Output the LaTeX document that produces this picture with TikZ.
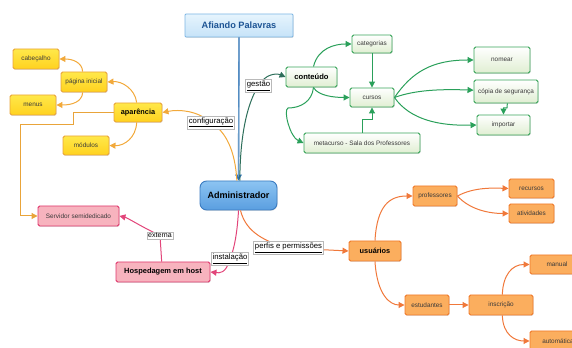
\documentclass[tikz,border=0pt]{standalone}
\usepackage{fontspec}
\setmainfont{Liberation Sans}
\usetikzlibrary{arrows.meta,shadows}
\definecolor{txtgray}{HTML}{3A3A3A}
\definecolor{bluB}{HTML}{7DB6E4}
\definecolor{bluT}{HTML}{1D5494}
\definecolor{bluF1}{HTML}{E6F4FD}
\definecolor{bluF2}{HTML}{C6E3F8}
\definecolor{admF1}{HTML}{8CC4F2}
\definecolor{admF2}{HTML}{5A9EE0}
\definecolor{admB}{HTML}{3B7BC0}
\definecolor{bluL}{HTML}{6A9CC8}
\definecolor{bluA}{HTML}{2A6FB8}
\definecolor{grnB}{HTML}{3AA55A}
\definecolor{grnF}{HTML}{E0EED2}
\definecolor{grnL}{HTML}{2AA05A}
\definecolor{tealL}{HTML}{2D6E5A}
\definecolor{yelF1}{HTML}{FFE84A}
\definecolor{yelF2}{HTML}{FFD21F}
\definecolor{yelB}{HTML}{E9A43A}
\definecolor{yelL}{HTML}{F2A93B}
\definecolor{pnkF}{HTML}{F7B3BE}
\definecolor{pnkB}{HTML}{E0396E}
\definecolor{pnkL}{HTML}{E2457A}
\definecolor{orgF}{HTML}{FBAE5E}
\definecolor{orgB}{HTML}{F07A2A}
\definecolor{orgL}{HTML}{F0783A}
\begin{document}
\begin{tikzpicture}[x=0.75pt,y=-0.75pt,
  every node/.style={inner sep=0pt},
  base/.style={draw, rounded corners=1.2pt, line width=0.7pt, align=center,
    font=\fontsize{4.8}{5}\selectfont, text=txtgray,
    drop shadow={shadow xshift=0.5pt,shadow yshift=-0.6pt,opacity=0.25}},
  grnbox/.style={base, draw=grnB, top color=white, bottom color=grnF},
  yelbox/.style={base, draw=yelB, top color=yelF1, bottom color=yelF2},
  pnkbox/.style={base, draw=pnkB, fill=pnkF},
  orgbox/.style={base, draw=orgB, fill=orgF},
  bigtxt/.style={font=\fontsize{#1}{#1}\selectfont\bfseries, text=black},
  ed/.style={line width=0.75pt, -{Triangle[length=4.5pt,width=4.5pt]}},
  lab/.style={draw=gray!55, fill=white, line width=0.4pt, inner sep=1pt,
    font=\fontsize{5.8}{6}\selectfont, text=black}
]
\useasboundingbox (0,0) rectangle (572,348);
\clip (0,0) rectangle (572,348);

% ---------- nodes ----------
\node[base, draw=bluB, top color=bluF1, bottom color=bluF2, rounded corners=0.8pt,
  minimum width=81pt, minimum height=17.25pt,
  font=\fontsize{6.9}{7}\selectfont\bfseries, text=bluT] (afi) at (239,25.5) {Afiando Palavras};
\node[base, draw=admB, top color=admF1, bottom color=admF2, rounded corners=5pt,
  minimum width=57.75pt, minimum height=21.75pt, bigtxt=6.8] (adm) at (238.5,195.5) {Administrador};

\node[grnbox, minimum width=38.25pt, minimum height=15pt, bigtxt=5.7] (cont) at (311.5,77) {conteúdo};
\node[grnbox, minimum width=30pt, minimum height=13.5pt] (cat) at (372,44) {categorias};
\node[grnbox, minimum width=33pt, minimum height=14.25pt] (cur) at (372,97.5) {cursos};
\node[grnbox, minimum width=87pt, minimum height=15pt] (meta) at (362,143) {metacurso - Sala dos Professores};
\node[grnbox, minimum width=42pt, minimum height=19.5pt] (nom) at (502,60) {nomear};
\node[grnbox, minimum width=48pt, minimum height=17.25pt] (cop) at (506,91.5) {cópia de segurança};
\node[grnbox, minimum width=39.75pt, minimum height=15pt] (imp) at (503.5,125) {importar};

\node[yelbox, minimum width=36pt, minimum height=14.25pt, bigtxt=5.5] (apar) at (138,112.5) {aparência};
\node[yelbox, minimum width=34.5pt, minimum height=15pt] (pag) at (84,82) {página inicial};
\node[yelbox, minimum width=34.5pt, minimum height=15pt] (cab) at (36,59) {cabeçalho};
\node[yelbox, minimum width=34.5pt, minimum height=15pt] (men) at (33,105) {menus};
\node[yelbox, minimum width=34.5pt, minimum height=14.25pt] (mod) at (86,145.5) {módulos};

\node[pnkbox, minimum width=60.75pt, minimum height=15pt] (serv) at (78.5,216) {Servidor semidedicado};
\node[pnkbox, minimum width=70.5pt, minimum height=15pt, bigtxt=5.6] (hosp) at (163,272) {Hospedagem em host};

\node[orgbox, minimum width=39pt, minimum height=15pt, bigtxt=5.5] (usu) at (375,251) {usuários};
\node[orgbox, minimum width=33pt, minimum height=15pt] (prof) at (435,196) {professores};
\node[orgbox, minimum width=33.75pt, minimum height=14.25pt] (rec) at (531.5,188.5) {recursos};
\node[orgbox, minimum width=33.75pt, minimum height=14.25pt] (ativ) at (531.5,213.5) {atividades};
\node[orgbox, minimum width=33pt, minimum height=15pt] (est) at (427,305) {estudantes};
\node[orgbox, minimum width=48pt, minimum height=15pt] (insc) at (501,305) {inscrição};
\node[orgbox, minimum width=40.5pt, minimum height=14.25pt] (man) at (557,264.5) {manual};
\node[orgbox, minimum width=42pt, minimum height=15pt] (auto) at (558,341) {automática};

% label positions
\coordinate (gestL) at (258.5,86);
\coordinate (confL) at (211,122.5);
\coordinate (instL) at (230,259);
\coordinate (perfL) at (288.5,248);
\coordinate (extL) at (160,235.5);

% ---------- connectors ----------
\draw[line width=1pt, draw=bluL, -{Triangle[length=4.5pt,width=5pt]}, bluA] (afi.south) -- (adm.north);
\draw[line width=0.75pt, draw=bluL] (afi.south) -- ([yshift=3pt]adm.north);

\draw[ed, tealL] ([xshift=1pt]adm.north) .. controls (240,130) and (249,100) .. (gestL)
  .. controls (265,74) and (276,73) .. (cont.west);
\draw[ed, yelL] ([xshift=-1.2pt]adm.north) .. controls (235,150) and (226,132) .. (confL)
  .. controls (198,111) and (180,109) .. (apar.east);

\draw[ed, yelL] ([xshift=-1pt]apar.north) .. controls (135,89) and (122,81) .. (pag.east);
\draw[ed, yelL] ([xshift=-1pt]pag.north) .. controls (82,62) and (72,59) .. (cab.east);
\draw[ed, yelL] ([xshift=-1pt]pag.south) .. controls (82,102) and (72,105) .. (men.east);
\draw[ed, yelL] ([xshift=-1pt]apar.south) .. controls (136,138) and (124,146) .. (mod.east);
\draw[ed, yelB] (apar.west) -- (73,112.5) -- (73,125) -- (20,125) -- (20,216) -- (serv.west);

\draw[ed, pnkL] (adm.south) .. controls (237,238) and (233,252) .. (instL)
  .. controls (226,274) and (219,273) .. (hosp.east);
\draw[line width=0.75pt, pnkL] ([xshift=-1pt]hosp.north) -- (extL);
\draw[ed, pnkL] (extL) .. controls (140,226) and (128,218) .. (serv.east);

\draw[line width=0.75pt, orgL] ([xshift=1.5pt]adm.south) .. controls (245,228) and (258,240) .. (perfL);
\draw[ed, orgL] (perfL) -- (usu.west);

\draw[ed, orgL] (usu.north) .. controls (377,205) and (390,196) .. (prof.west);
\draw[ed, orgL] (usu.south) .. controls (377,295) and (390,305) .. (est.west);
\draw[ed, orgL] (prof.east) .. controls (474,187) and (494,188) .. (rec.west);
\draw[ed, orgL] (prof.east) .. controls (470,210) and (490,213.5) .. (ativ.west);
\draw[ed, orgL] (est.east) -- (insc.west);
\draw[ed, orgL] ([xshift=1pt]insc.north) .. controls (503,275) and (512,264.5) .. (man.west);
\draw[ed, orgL] ([xshift=1pt]insc.south) .. controls (503,335) and (515,341) .. (auto.west);

\draw[ed, grnL] ([xshift=1.5pt]cont.north) .. controls (318,48) and (335,44) .. (cat.west);
\draw[ed, grnL] ([xshift=1.5pt]cont.south) .. controls (318,96) and (335,97.5) .. (cur.west);
\draw[ed, grnL] ([xshift=1.5pt]cont.south) .. controls (312,102) and (300,108) .. (288,108)
  .. controls (283,110) and (290,137) .. (meta.west);
\draw[ed, grnL] (cat.south) -- (cur.north);
\draw[ed, grnL] (meta.north) -- (362,120) -- (372,120) -- (cur.south);
\draw[ed, grnL] (cur.east) .. controls (412,72) and (432,60) .. (nom.west);
\draw[ed, grnL] (cur.east) .. controls (415,90) and (440,89) .. ([yshift=1pt]cop.west);
\draw[ed, grnL] (cur.east) .. controls (410,120) and (440,126) .. (imp.west);
\draw[ed, grnL] ([xshift=1pt]cop.south) -- (507,108) -- (503.5,108) -- (imp.north);

% ---------- labels ----------
\node[lab] at (gestL) {\underline{gestão}};
\node[lab] at (confL) {\underline{configuração}};
\node[lab] at (instL) {\underline{instalação}};
\node[lab] at (perfL) {\underline{perfis e permissões}};
\node[lab, font=\fontsize{5.3}{6}\selectfont] at (extL) {externa};
\end{tikzpicture}
\end{document}
